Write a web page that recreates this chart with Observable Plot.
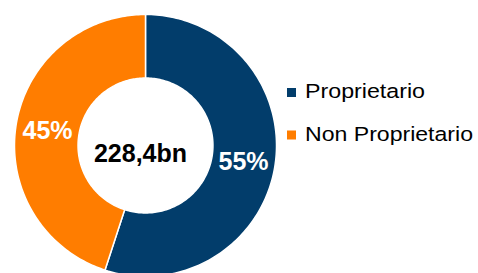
<!DOCTYPE html>
<html>
<head>
<meta charset="utf-8">
<script src="https://cdn.jsdelivr.net/npm/d3@7"></script>
<script src="https://cdn.jsdelivr.net/npm/@observablehq/plot@0.6"></script>
<style>
  html, body { margin: 0; padding: 0; background: #fff; }
  #chart svg { display: block; font-family: Arial, "Liberation Sans", sans-serif; }
</style>
</head>
<body>
<div id="chart"></div>
<script>
const categories = ["Proprietario", "Non Proprietario"];
const shares = [55, 45];
const colors = ["#023D6B", "#FF7D00"];
const totalLabel = "228,4bn";

const W = 478, H = 273;
const innerR = 0.515;

const data = categories.map((c, i) => ({cat: c, share: shares[i]}));
const arcs = d3.pie().sort(null).value(d => d.share)(data);

// polygon outline of each donut slice in unit coordinates
const rows = [];
for (const a of arcs) {
  const N = 160;
  const pts = [];
  for (let k = 0; k <= N; k++) {
    const t = a.startAngle + (a.endAngle - a.startAngle) * k / N;
    pts.push({cat: a.data.cat, x: Math.sin(t), y: Math.cos(t)});
  }
  for (let k = N; k >= 0; k--) {
    const t = a.startAngle + (a.endAngle - a.startAngle) * k / N;
    pts.push({cat: a.data.cat, x: innerR * Math.sin(t), y: innerR * Math.cos(t)});
  }
  pts.push({...pts[0]});
  rows.push(...pts);
}

const labels = arcs.map(a => {
  const m = (a.startAngle + a.endAngle) / 2;
  const r = (1 + innerR) / 2;
  return {x: r * Math.sin(m), y: r * Math.cos(m), text: a.data.share + "%"};
});

const chart = Plot.plot({
  width: W,
  height: H,
  margin: 0,
  x: {domain: [-145 / 131, 333 / 131], axis: null},
  y: {domain: [-128 / 131, 145 / 131], axis: null},
  color: {domain: categories, range: colors},
  style: {fontFamily: 'Arial, "Liberation Sans", sans-serif', background: "#fff"},
  marks: [
    Plot.line(rows, {x: "x", y: "y", z: "cat", fill: "cat", stroke: "white", strokeWidth: 1.5, curve: "linear"}),
    Plot.text(labels, {x: "x", y: "y", text: "text", fill: "white", fontSize: 25, fontWeight: "bold", dy: 1}),
    Plot.text([totalLabel], {x: () => 0, y: () => 0, text: d => d, fill: "black", fontSize: 25, fontWeight: "bold", dx: -5, dy: 8})
  ]
});

document.getElementById("chart").appendChild(chart);

// legend
const svg = d3.select(chart);
const lg = svg.append("g").attr("font-size", 20.5).attr("fill", "#000").attr("text-anchor", "start");
const legendWidths = [120, 168];
categories.forEach((c, i) => {
  const y0 = 98 + i * 42.5;
  lg.append("rect").attr("x", 287).attr("y", y0 - 10).attr("width", 9).attr("height", 9).attr("fill", colors[i]);
  lg.append("text").attr("x", 305).attr("y", y0).attr("text-anchor", "start")
    .attr("textLength", legendWidths[i]).attr("lengthAdjust", "spacingAndGlyphs").text(c);
});
</script>
</body>
</html>
